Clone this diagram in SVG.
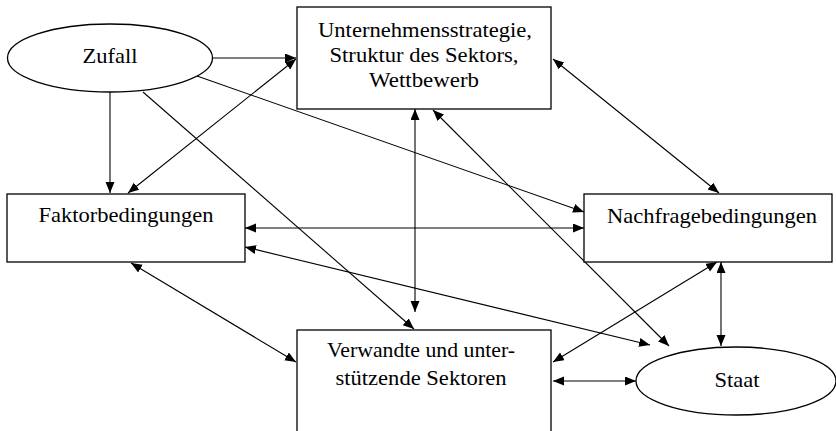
<svg xmlns="http://www.w3.org/2000/svg" width="836" height="431" viewBox="0 0 836 431">
<style>
.box{fill:#fff;stroke:#000;stroke-width:1.3}
.c{stroke:#000;stroke-width:1.1;fill:none}
.s{marker-end:url(#ah)}
.d{marker-start:url(#ah);marker-end:url(#ah)}
</style>
<defs>
<marker id="ah" markerUnits="userSpaceOnUse" markerWidth="12" markerHeight="10" viewBox="0 0 12 10" refX="11" refY="4.5" orient="auto-start-reverse">
<path d="M0,0 L11,4.5 L0,9 z" fill="#000"/>
</marker>
</defs>
<rect width="836" height="431" fill="#fff"/>
<g id="connectors">
<line class="c s" x1="212" y1="58" x2="296" y2="58"/>
<line class="c s" x1="110" y1="92" x2="110" y2="193"/>
<line class="c d" x1="128" y1="193" x2="296" y2="59"/>
<line class="c s" x1="197" y1="76" x2="584" y2="212"/>
<line class="c s" x1="143" y1="92" x2="414" y2="329"/>
<line class="c d" x1="415" y1="109" x2="415" y2="312"/>
<line class="c d" x1="245" y1="228" x2="584" y2="228"/>
<line class="c d" x1="245" y1="247" x2="650" y2="345"/>
<line class="c d" x1="131" y1="263" x2="296" y2="362"/>
<line class="c d" x1="553" y1="59" x2="719" y2="193"/>
<line class="c d" x1="433" y1="110" x2="669" y2="346"/>
<line class="c d" x1="717" y1="262" x2="553" y2="362"/>
<line class="c d" x1="721" y1="262" x2="721" y2="346"/>
<line class="c d" x1="553" y1="381" x2="636" y2="381"/>
</g>
<g font-family="'Liberation Serif', 'DejaVu Serif', serif" font-size="21" text-anchor="middle" fill="#000">
<g id="zufall">
<ellipse class="box" cx="110" cy="58" rx="102.5" ry="34"/>
<text x="110" y="63" textLength="55" lengthAdjust="spacingAndGlyphs">Zufall</text>
</g>
<g id="unternehmen">
<rect class="box" x="297" y="7" width="254" height="102"/>
<text x="425" y="37" textLength="214" lengthAdjust="spacingAndGlyphs">Unternehmensstrategie,</text>
<text x="424" y="62" textLength="189" lengthAdjust="spacingAndGlyphs">Struktur des Sektors,</text>
<text x="424" y="87" textLength="110" lengthAdjust="spacingAndGlyphs">Wettbewerb</text>
</g>
<g id="faktor">
<rect class="box" x="7" y="194" width="238" height="68"/>
<text x="126" y="222" textLength="175" lengthAdjust="spacingAndGlyphs">Faktorbedingungen</text>
</g>
<g id="nachfrage">
<rect class="box" x="584" y="194" width="248" height="68"/>
<text x="712" y="223" textLength="210" lengthAdjust="spacingAndGlyphs">Nachfragebedingungen</text>
</g>
<g id="verwandte">
<rect class="box" x="297" y="330" width="254" height="120"/>
<text x="421" y="357" textLength="188" lengthAdjust="spacingAndGlyphs">Verwandte und unter-</text>
<text x="421" y="385" textLength="171" lengthAdjust="spacingAndGlyphs">stützende Sektoren</text>
</g>
<g id="staat">
<ellipse class="box" cx="736" cy="381" rx="100" ry="34"/>
<text x="737" y="387" textLength="45" lengthAdjust="spacingAndGlyphs">Staat</text>
</g>
</g>
</svg>
